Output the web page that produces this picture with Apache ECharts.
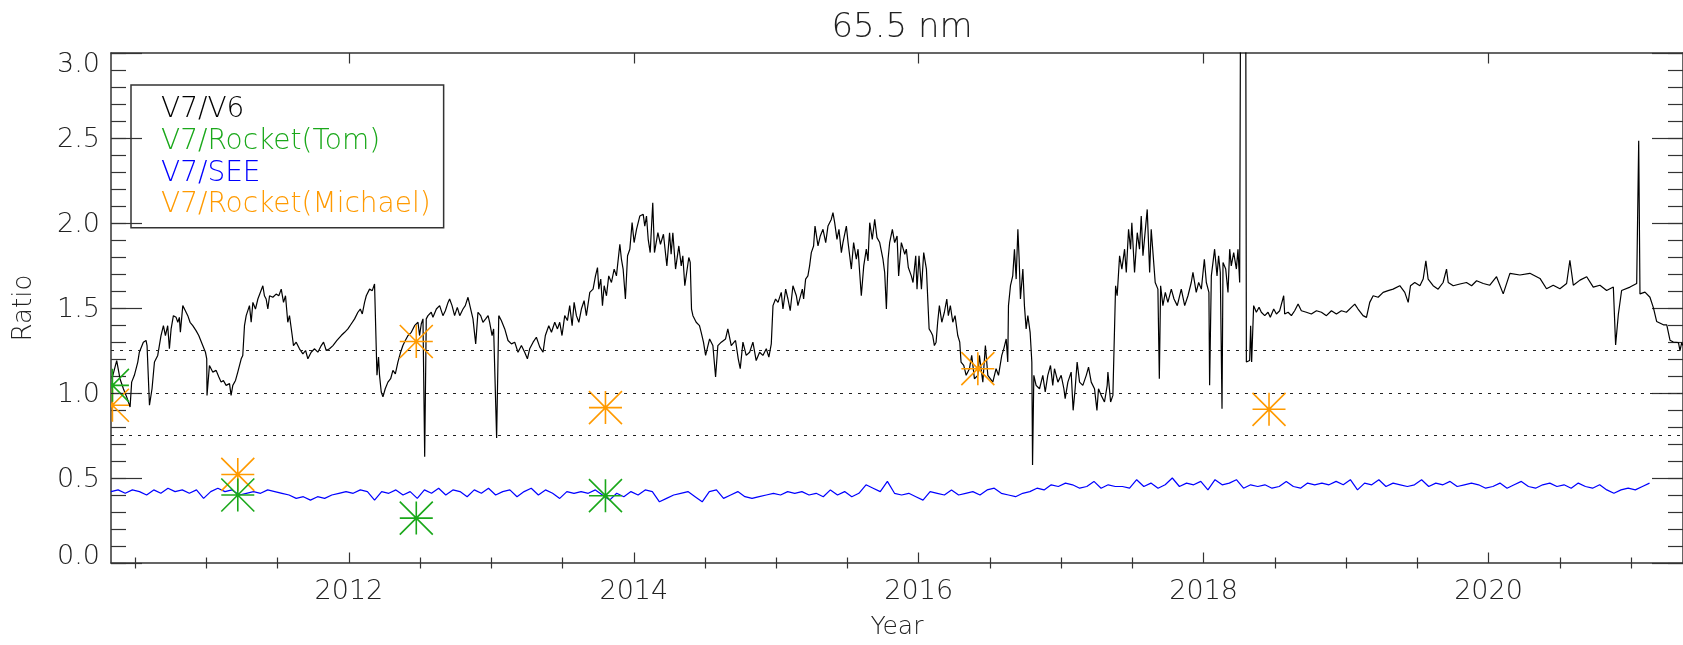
<!DOCTYPE html>
<html><head><meta charset="utf-8">
<script src="https://cdn.jsdelivr.net/npm/echarts@6/dist/echarts.min.js"></script>
<style>html,body{margin:0;padding:0;background:#fff}#c{width:1683px;height:645px}</style>
</head><body><div id="c"></div>
<script>
// ---------- data ----------
const titleText = '65.5 nm';
const xMin = 2010.33, xMax = 2021.365;
const majorYears = [2012, 2014, 2016, 2018, 2020];
const minorYears = [2010.5, 2011, 2011.5, 2012.5, 2013, 2013.5, 2014.5, 2015, 2015.5, 2016.5, 2017, 2017.5, 2018.5, 2019, 2019.5, 2020.5, 2021];
const yMin = 0, yMax = 3, yMajor = 0.5, yMinor = 0.1;
const refLevels = [0.75, 1.0, 1.25];
const seriesNames = ['V7/V6', 'V7/Rocket(Tom)', 'V7/SEE', 'V7/Rocket(Michael)'];

// V7/V6 ratio: [year, ratio]
const v7v6 = [
[2010.337,1.084],[2010.370,1.191],[2010.393,1.084],[2010.417,1.025],[2010.440,0.977],[2010.464,0.918],[2010.475,1.064],[2010.494,1.104],[2010.518,1.182],[2010.529,1.240],[2010.541,1.25],[2010.557,1.299],[2010.576,1.309],[2010.583,1.279],[2010.600,0.928],[2010.618,1.025],[2010.635,1.182],[2010.658,1.221],[2010.681,1.338],[2010.698,1.396],[2010.712,1.338],[2010.728,1.396],[2010.740,1.260],[2010.752,1.377],[2010.768,1.455],[2010.787,1.445],[2010.799,1.416],[2010.810,1.445],[2010.817,1.357],[2010.834,1.514],[2010.852,1.484],[2010.869,1.455],[2010.885,1.416],[2010.904,1.396],[2010.927,1.367],[2010.946,1.338],[2010.974,1.279],[2010.993,1.240],[2011.002,1.201],[2011.004,0.986],[2011.021,1.162],[2011.044,1.123],[2011.068,1.133],[2011.087,1.094],[2011.103,1.064],[2011.119,1.074],[2011.138,1.045],[2011.162,1.055],[2011.173,0.986],[2011.185,1.045],[2011.204,1.074],[2011.220,1.123],[2011.244,1.201],[2011.255,1.221],[2011.267,1.396],[2011.279,1.455],[2011.302,1.514],[2011.314,1.416],[2011.326,1.533],[2011.344,1.494],[2011.361,1.553],[2011.396,1.631],[2011.407,1.572],[2011.419,1.553],[2011.431,1.494],[2011.443,1.572],[2011.466,1.563],[2011.489,1.582],[2011.508,1.572],[2011.525,1.611],[2011.541,1.533],[2011.555,1.572],[2011.571,1.416],[2011.583,1.455],[2011.602,1.338],[2011.611,1.279],[2011.630,1.299],[2011.653,1.260],[2011.677,1.230],[2011.696,1.250],[2011.712,1.201],[2011.735,1.240],[2011.759,1.260],[2011.782,1.240],[2011.806,1.279],[2011.822,1.299],[2011.841,1.250],[2011.864,1.260],[2011.888,1.279],[2011.916,1.309],[2011.946,1.338],[2011.970,1.357],[2011.993,1.377],[2012.016,1.406],[2012.040,1.436],[2012.063,1.475],[2012.080,1.494],[2012.094,1.465],[2012.110,1.533],[2012.122,1.572],[2012.145,1.611],[2012.164,1.602],[2012.180,1.641],[2012.192,1.641],[2012.197,1.104],[2012.208,1.211],[2012.215,1.104],[2012.227,1.006],[2012.239,0.977],
[2012.255,1.025],[2012.274,1.064],[2012.293,1.084],[2012.309,1.133],[2012.326,1.113],[2012.344,1.182],[2012.363,1.240],[2012.379,1.279],[2012.396,1.309],[2012.415,1.338],[2012.438,1.357],[2012.461,1.396],[2012.485,1.416],[2012.496,1.338],[2012.508,1.406],[2012.520,1.436],[2012.532,0.625],[2012.543,1.436],[2012.555,1.455],[2012.578,1.475],[2012.590,1.445],[2012.614,1.494],[2012.637,1.514],[2012.649,1.504],[2012.660,1.455],[2012.677,1.484],[2012.696,1.533],[2012.707,1.553],[2012.724,1.514],[2012.742,1.455],[2012.761,1.504],[2012.778,1.455],[2012.801,1.494],[2012.817,1.514],[2012.836,1.563],[2012.855,1.494],[2012.871,1.436],[2012.890,1.289],[2012.906,1.475],[2012.925,1.455],[2012.941,1.416],[2012.960,1.436],[2012.977,1.455],[2012.988,1.416],[2013.005,1.338],[2013.016,1.377],[2013.037,0.736],[2013.052,1.455],[2013.070,1.426],[2013.094,1.377],[2013.117,1.309],[2013.141,1.289],[2013.164,1.299],[2013.187,1.240],[2013.211,1.279],[2013.234,1.240],[2013.253,1.201],[2013.269,1.260],[2013.293,1.299],[2013.316,1.328],[2013.340,1.270],[2013.363,1.240],[2013.379,1.338],[2013.403,1.396],[2013.422,1.357],[2013.445,1.416],[2013.464,1.377],[2013.480,1.416],[2013.496,1.338],[2013.515,1.455],[2013.534,1.426],[2013.550,1.514],[2013.567,1.396],[2013.581,1.533],[2013.597,1.455],[2013.614,1.416],[2013.632,1.494],[2013.651,1.543],[2013.667,1.455],[2013.691,1.592],[2013.714,1.611],[2013.731,1.689],[2013.745,1.738],[2013.754,1.611],[2013.768,1.670],[2013.780,1.514],[2013.792,1.631],[2013.808,1.572],[2013.824,1.689],[2013.843,1.650],[2013.862,1.729],[2013.878,1.689],[2013.902,1.875],[2013.913,1.787],[2013.925,1.729],[2013.941,1.553],[2013.956,1.807],[2013.972,1.846],[2013.988,2.002],[2014.002,1.885],[2014.019,1.963],[2014.042,2.041],[2014.066,2.051],[2014.077,1.982],[2014.089,2.041],[2014.101,1.904],[2014.115,1.826],
[2014.133,2.119],[2014.145,1.826],[2014.169,1.943],[2014.187,1.875],[2014.208,1.934],[2014.232,1.748],[2014.251,1.943],[2014.262,1.816],[2014.274,1.943],[2014.293,1.729],[2014.316,1.865],[2014.333,1.748],[2014.344,1.807],[2014.358,1.631],[2014.386,1.797],[2014.396,1.768],[2014.405,1.494],[2014.415,1.455],[2014.438,1.416],[2014.461,1.396],[2014.473,1.357],[2014.489,1.299],[2014.504,1.221],[2014.532,1.318],[2014.555,1.279],[2014.574,1.094],[2014.590,1.279],[2014.614,1.299],[2014.644,1.318],[2014.660,1.377],[2014.684,1.279],[2014.714,1.309],[2014.733,1.201],[2014.747,1.143],[2014.766,1.299],[2014.789,1.221],[2014.813,1.240],[2014.836,1.299],[2014.859,1.191],[2014.883,1.240],[2014.906,1.221],[2014.930,1.260],[2014.948,1.211],[2014.965,1.289],[2014.977,1.514],[2014.995,1.553],[2015.012,1.533],[2015.035,1.592],[2015.047,1.494],[2015.066,1.611],[2015.082,1.553],[2015.098,1.484],[2015.117,1.631],[2015.141,1.572],[2015.152,1.514],[2015.183,1.611],[2015.192,1.553],[2015.206,1.670],[2015.222,1.689],[2015.234,1.748],[2015.246,1.826],[2015.262,1.865],[2015.272,1.982],[2015.293,1.865],[2015.309,1.924],[2015.328,1.963],[2015.347,1.885],[2015.363,1.982],[2015.386,2.021],[2015.398,2.061],[2015.410,2.002],[2015.426,1.904],[2015.440,1.963],[2015.457,1.826],[2015.468,1.885],[2015.492,1.982],[2015.504,1.885],[2015.527,1.729],[2015.543,1.885],[2015.562,1.787],[2015.574,1.846],[2015.597,1.572],[2015.614,1.748],[2015.632,1.846],[2015.644,1.777],[2015.656,2.002],[2015.674,1.904],[2015.691,2.021],[2015.707,1.914],[2015.726,1.885],[2015.749,1.787],[2015.761,1.709],[2015.773,1.494],[2015.785,1.787],[2015.796,1.885],[2015.815,1.963],[2015.831,1.885],[2015.848,1.924],[2015.859,1.689],[2015.878,1.885],[2015.902,1.816],[2015.913,1.846],[2015.927,1.738],[2015.948,1.689],[2015.960,1.650],[2015.979,1.807],[2015.988,1.611],[2016.002,1.807],[2016.019,1.611],[2016.035,1.826],[2016.054,1.729],[2016.073,1.377],
[2016.087,1.357],[2016.098,1.338],[2016.110,1.279],[2016.122,1.299],[2016.133,1.416],[2016.145,1.514],[2016.162,1.416],[2016.180,1.475],[2016.197,1.553],[2016.208,1.455],[2016.222,1.514],[2016.239,1.416],[2016.255,1.455],[2016.274,1.338],[2016.288,1.299],[2016.297,1.182],[2016.316,1.162],[2016.333,1.104],[2016.356,1.143],[2016.372,1.221],[2016.391,1.084],[2016.415,1.104],[2016.426,1.221],[2016.450,1.064],[2016.468,1.279],[2016.485,1.104],[2016.520,1.064],[2016.543,1.143],[2016.560,1.104],[2016.583,1.221],[2016.597,1.260],[2016.614,1.318],[2016.625,1.182],[2016.630,1.514],[2016.644,1.631],[2016.660,1.689],[2016.672,1.846],[2016.684,1.670],[2016.696,1.963],[2016.705,1.787],[2016.714,1.553],[2016.731,1.729],[2016.742,1.514],[2016.754,1.377],[2016.766,1.455],[2016.782,1.357],[2016.794,1.182],[2016.799,0.576],[2016.808,1.104],[2016.824,1.045],[2016.848,1.025],[2016.871,1.104],[2016.888,1.006],[2016.906,1.104],[2016.925,1.162],[2016.941,1.045],[2016.953,1.143],[2016.977,1.064],[2017.000,1.104],[2017.019,1.025],[2017.028,0.967],[2017.047,1.064],[2017.070,1.123],[2017.084,0.898],[2017.098,1.025],[2017.112,1.182],[2017.129,1.064],[2017.152,1.045],[2017.176,1.104],[2017.192,1.152],[2017.211,1.064],[2017.234,1.025],[2017.251,0.898],[2017.262,1.025],[2017.281,0.986],[2017.304,0.947],[2017.323,1.045],[2017.328,1.123],[2017.347,0.947],[2017.363,0.986],[2017.375,0.986],[2017.382,1.631],[2017.393,1.572],[2017.410,1.807],[2017.426,1.729],[2017.445,1.846],[2017.457,1.709],[2017.473,1.963],[2017.487,1.846],[2017.496,2.002],[2017.515,1.709],[2017.534,1.943],[2017.550,1.846],[2017.562,2.041],[2017.574,1.807],[2017.604,2.080],[2017.621,1.709],[2017.632,1.963],[2017.660,1.650],[2017.679,1.611],[2017.689,1.084],[2017.698,1.631],[2017.714,1.514],[2017.731,1.592],[2017.749,1.533],[2017.773,1.611],[2017.792,1.553],[2017.815,1.514],[2017.843,1.611],[2017.867,1.514],[2017.890,1.572],[2017.913,1.650],[2017.925,1.709],[2017.948,1.592],[2017.965,1.650],[2017.984,1.611],
[2018.005,1.787],[2018.019,1.650],[2018.037,1.592],[2018.042,1.045],[2018.054,1.689],[2018.077,1.846],[2018.094,1.689],[2018.105,1.807],[2018.117,1.709],[2018.129,0.908],[2018.136,1.768],[2018.155,1.729],[2018.171,1.592],[2018.183,1.846],[2018.194,1.748],[2018.211,1.826],[2018.230,1.729],[2018.241,1.846],[2018.253,1.650],[2018.260,3.6],[2018.278,3.6],[2018.295,3.6],[2018.300,1.182],[2018.323,1.191],[2018.330,1.396],[2018.337,1.182],[2018.351,1.514],[2018.370,1.475],[2018.389,1.504],[2018.405,1.475],[2018.429,1.455],[2018.452,1.475],[2018.468,1.445],[2018.492,1.494],[2018.511,1.465],[2018.534,1.484],[2018.562,1.572],[2018.569,1.465],[2018.593,1.475],[2018.616,1.455],[2018.639,1.484],[2018.663,1.523],[2018.686,1.484],[2018.721,1.475],[2018.756,1.465],[2018.792,1.484],[2018.827,1.475],[2018.862,1.455],[2018.897,1.484],[2018.932,1.465],[2018.967,1.484],[2019.002,1.475],[2019.037,1.504],[2019.061,1.523],[2019.084,1.494],[2019.119,1.455],[2019.143,1.445],[2019.166,1.533],[2019.190,1.572],[2019.225,1.563],[2019.260,1.592],[2019.295,1.602],[2019.330,1.611],[2019.377,1.631],[2019.412,1.592],[2019.436,1.533],[2019.452,1.631],[2019.482,1.650],[2019.518,1.631],[2019.541,1.670],[2019.560,1.777],[2019.576,1.670],[2019.611,1.631],[2019.646,1.611],[2019.681,1.650],[2019.705,1.729],[2019.717,1.650],[2019.752,1.631],[2019.799,1.641],[2019.845,1.650],[2019.881,1.631],[2019.916,1.660],
[2019.963,1.644],[2020.009,1.634],[2020.056,1.684],[2020.103,1.583],[2020.150,1.704],[2020.220,1.694],[2020.290,1.704],[2020.361,1.674],[2020.407,1.613],[2020.454,1.634],[2020.501,1.613],[2020.548,1.644],[2020.571,1.781],[2020.595,1.634],[2020.642,1.664],[2020.689,1.684],[2020.735,1.623],[2020.782,1.634],[2020.829,1.603],[2020.876,1.623],[2020.892,1.283],[2020.911,1.462],[2020.934,1.603],[2020.993,1.623],[2021.040,1.644],[2021.054,2.484],[2021.063,1.583],[2021.098,1.593],[2021.133,1.563],[2021.157,1.502],[2021.180,1.421],[2021.227,1.401],[2021.251,1.401],[2021.274,1.310],[2021.297,1.300],[2021.333,1.296],[2021.344,1.249],[2021.356,1.296],[2021.365,1.280]
];

// V7/SEE ratio, sampled every 0.05 yr from 2010.33
const seeStart = 2010.33, seeStep = 0.05;
const v7see = [
0.42,0.43,0.41,0.43,0.42,0.40,0.43,0.41,0.44,0.42,0.43,0.41,0.43,0.38,0.42,0.44,0.42,0.43,0.40,0.41,
0.42,0.41,0.43,0.42,0.41,0.40,0.38,0.39,0.37,0.39,0.38,0.40,0.41,0.42,0.41,0.43,0.42,0.37,0.42,0.41,
0.43,0.40,0.42,0.38,0.43,0.41,0.44,0.40,0.43,0.42,0.39,0.43,0.41,0.44,0.40,0.42,0.43,0.39,0.42,0.44,
0.40,0.43,0.41,0.38,0.42,0.41,0.42,0.41,0.43,0.40,0.37,0.41,0.39,0.42,0.40,0.43,0.42,0.36,0.38,0.40,
0.41,0.42,0.39,0.36,0.42,0.43,0.38,0.40,0.42,0.39,0.38,0.39,0.40,0.41,0.40,0.42,0.41,0.42,0.40,0.41,
0.39,0.43,0.40,0.42,0.39,0.41,0.46,0.44,0.42,0.48,0.41,0.40,0.41,0.39,0.37,0.42,0.41,0.40,0.43,0.40,
0.41,0.42,0.40,0.43,0.44,0.41,0.40,0.39,0.41,0.42,0.44,0.43,0.46,0.45,0.47,0.46,0.44,0.45,0.48,0.44,
0.46,0.45,0.45,0.44,0.49,0.45,0.47,0.44,0.46,0.50,0.45,0.47,0.46,0.48,0.43,0.49,0.46,0.47,0.49,0.44,
0.46,0.45,0.46,0.44,0.45,0.48,0.45,0.44,0.47,0.46,0.47,0.46,0.48,0.46,0.49,0.43,0.47,0.46,0.49,0.45,
0.47,0.46,0.45,0.46,0.49,0.45,0.47,0.46,0.48,0.45,0.46,0.47,0.46,0.44,0.45,0.47,0.44,0.46,0.48,0.45,
0.44,0.46,0.47,0.45,0.46,0.44,0.47,0.45,0.44,0.46,0.43,0.41,0.43,0.44,0.43,0.45,0.47
];

const rocketTom = [[2010.340,1.045],[2011.220,0.400],[2012.473,0.264],[2013.801,0.396]];
const rocketMichael = [[2010.340,0.928],[2011.220,0.521],[2012.473,1.303],[2013.801,0.914],[2016.415,1.143],[2018.459,0.904]];

// ---------- styles ----------
const FONT = '"DejaVu Sans", "Liberation Sans", sans-serif';
const TXT = '#222';
const AX = '#333';
const colors = { v6: '#000000', tom: '#1aa81a', see: '#0000ff', mich: '#ff9a00' };
const MARK_R = 16.5;

function asterisk(color) {
  return function (params, api) {
    const p = api.coord([api.value(0), api.value(1)]);
    const x = p[0], y = p[1], r = MARK_R;
    return {
      type: 'path',
      shape: { pathData: `M${x} ${y - r}L${x} ${y + r}M${x - r} ${y}L${x + r} ${y}M${x - r} ${y - r}L${x + r} ${y + r}M${x - r} ${y + r}L${x + r} ${y - r}` },
      style: { stroke: color, lineWidth: 1.6, fill: null }
    };
  };
}

const labelBase = { fontSize: 27, fontFamily: FONT, fontWeight: 200, color: TXT };

const chart = echarts.init(document.getElementById('c'), null, { renderer: 'canvas' });
chart.setOption({
  animation: false,
  backgroundColor: '#fff',
  title: {
    text: titleText, left: 897, top: 6, textAlign: 'center',
    textStyle: { fontSize: 34, fontFamily: FONT, fontWeight: 200, color: TXT }
  },
  legend: {
    left: 131, top: 85, orient: 'vertical', selectedMode: false,
    padding: [9, 13, 7, 24], itemGap: 0, itemWidth: 0, itemHeight: 0,
    borderColor: AX, borderWidth: 1.5,
    textStyle: { fontSize: 28, fontFamily: FONT, fontWeight: 200, lineHeight: 31.7 },
    data: [
      { name: seriesNames[0], textStyle: { color: colors.v6 } },
      { name: seriesNames[1], textStyle: { color: colors.tom } },
      { name: seriesNames[2], textStyle: { color: colors.see } },
      { name: seriesNames[3], textStyle: { color: colors.mich } }
    ]
  },
  grid: { left: 111, top: 53, width: 1572, height: 512, containLabel: false },
  xAxis: [
    { type: 'value', min: xMin, max: xMax, position: 'bottom', name: 'Year', nameLocation: 'middle', nameGap: 52, nameMoveOverlap: false,
      nameTextStyle: { fontSize: 25, fontFamily: FONT, fontWeight: 200, color: TXT },
      axisLine: { show: true, onZero: false, lineStyle: { color: AX, width: 1.5 } },
      axisTick: { show: true, inside: true, length: 10.5, customValues: majorYears, lineStyle: { color: AX, width: 1.2 } },
      axisLabel: Object.assign({ show: true, margin: 15, customValues: majorYears, formatter: v => String(Math.round(v)) }, labelBase),
      splitLine: { show: false } },
    { type: 'value', min: xMin, max: xMax, position: 'bottom',
      axisLine: { show: false }, axisLabel: { show: false }, splitLine: { show: false },
      axisTick: { show: true, inside: true, length: 5.5, customValues: minorYears, lineStyle: { color: AX, width: 1.2 } } },
    { type: 'value', min: xMin, max: xMax, position: 'top',
      axisLine: { show: true, onZero: false, lineStyle: { color: AX, width: 1.5 } }, axisLabel: { show: false }, splitLine: { show: false },
      axisTick: { show: true, inside: true, length: 10.5, customValues: majorYears, lineStyle: { color: AX, width: 1.2 } } },
    { type: 'value', min: xMin, max: xMax, position: 'top',
      axisLine: { show: false }, axisLabel: { show: false }, splitLine: { show: false },
      axisTick: { show: true, inside: true, length: 5.5, customValues: minorYears, lineStyle: { color: AX, width: 1.2 } } }
  ],
  yAxis: [
    { type: 'value', min: yMin, max: yMax, interval: yMajor, position: 'left', name: 'Ratio', nameLocation: 'middle', nameGap: 74, nameMoveOverlap: false,
      nameTextStyle: { fontSize: 26, fontFamily: FONT, fontWeight: 200, color: TXT },
      axisLine: { show: true, onZero: false, lineStyle: { color: AX, width: 1.5 } },
      axisTick: { show: true, inside: true, length: 31, lineStyle: { color: AX, width: 1.2 } },
      axisLabel: {
        show: true, margin: 11,
        formatter: v => v >= yMax - 1e-9 ? '{t|' + v.toFixed(1) + '}' : (v <= yMin + 1e-9 ? '{b|' + v.toFixed(1) + '}' : '{n|' + v.toFixed(1) + '}'),
        rich: {
          n: Object.assign({ padding: [4, 0, 0, 0] }, labelBase),
          t: Object.assign({ padding: [23, 0, 0, 0] }, labelBase),
          b: Object.assign({ padding: [0, 0, 13, 0] }, labelBase)
        }
      },
      splitLine: { show: false } },
    { type: 'value', min: yMin, max: yMax, interval: yMinor, position: 'left',
      axisLine: { show: false }, axisLabel: { show: false }, splitLine: { show: false },
      axisTick: { show: true, inside: true, length: 15, lineStyle: { color: AX, width: 1.2 } } },
    { type: 'value', min: yMin, max: yMax, interval: yMajor, position: 'right',
      axisLine: { show: true, onZero: false, lineStyle: { color: AX, width: 1.5 } }, axisLabel: { show: false }, splitLine: { show: false },
      axisTick: { show: true, inside: true, length: 31, lineStyle: { color: AX, width: 1.2 } } },
    { type: 'value', min: yMin, max: yMax, interval: yMinor, position: 'right',
      axisLine: { show: false }, axisLabel: { show: false }, splitLine: { show: false },
      axisTick: { show: true, inside: true, length: 15, lineStyle: { color: AX, width: 1.2 } } }
  ],
  series: [
    { name: seriesNames[0], type: 'line', xAxisIndex: 0, yAxisIndex: 0, data: v7v6, symbol: 'none', showSymbol: false,
      clip: true, lineStyle: { color: colors.v6, width: 1.2 }, itemStyle: { color: colors.v6 }, z: 3,
      markLine: { silent: true, symbol: 'none', label: { show: false }, animation: false,
        lineStyle: { color: '#222', type: [3, 6], width: 1.2 },
        data: refLevels.map(v => ({ yAxis: v })) } },
    { name: seriesNames[2], type: 'line', xAxisIndex: 0, yAxisIndex: 0,
      data: v7see.map((v, i) => [seeStart + i * seeStep, v]), symbol: 'none', showSymbol: false,
      clip: true, lineStyle: { color: colors.see, width: 1.2 }, itemStyle: { color: colors.see }, z: 3 },
    { name: seriesNames[3], type: 'custom', xAxisIndex: 0, yAxisIndex: 0, data: rocketMichael, clip: true,
      renderItem: asterisk(colors.mich), itemStyle: { color: colors.mich }, z: 4 },
    { name: seriesNames[1], type: 'custom', xAxisIndex: 0, yAxisIndex: 0, data: rocketTom, clip: true,
      renderItem: asterisk(colors.tom), itemStyle: { color: colors.tom }, z: 4 }
  ]
});
</script>
</body></html>
